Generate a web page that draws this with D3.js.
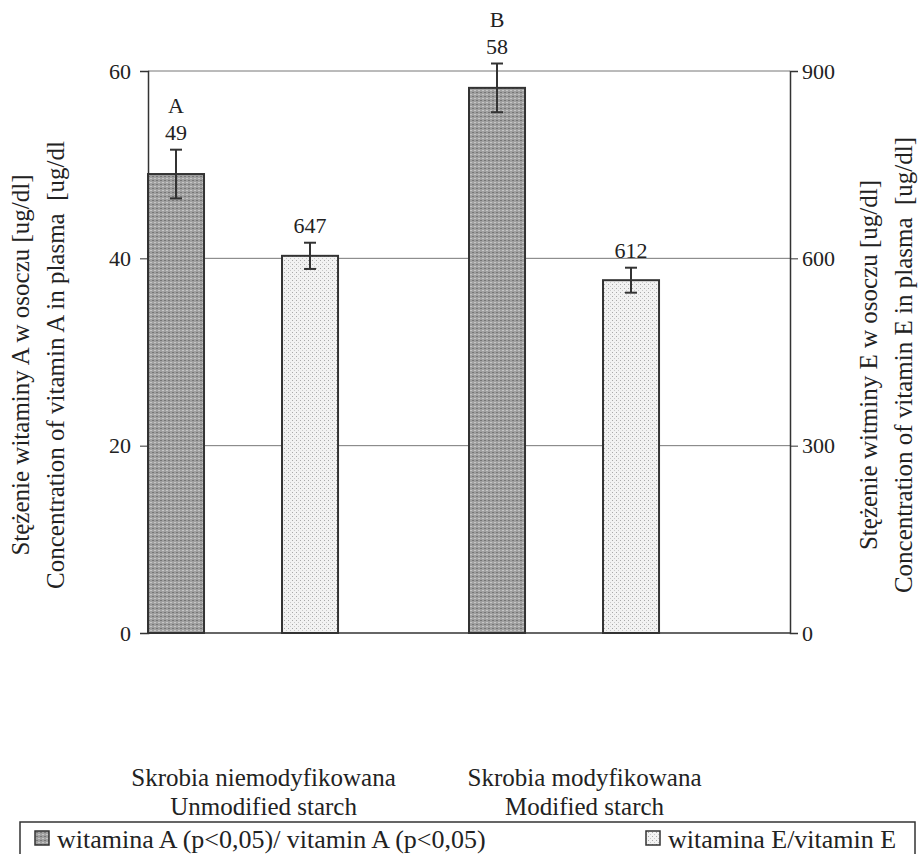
<!DOCTYPE html>
<html>
<head>
<meta charset="utf-8">
<script src="https://cdn.jsdelivr.net/npm/d3@7"></script>
<style>
  body { margin: 0; background: #fff; }
  svg { display: block; font-family: "Liberation Serif", "Times New Roman", serif; }
</style>
</head>
<body>
<div id="chart"></div>
<script>
// groups along the x axis (two lines each)
const groups = ["Skrobia niemodyfikowana|Unmodified starch", "Skrobia modyfikowana|Modified starch"];
const series = ["A", "E"];
// vitamin A, left axis
const vitA = [49, 58.2];
const vitAErr = [2.6, 2.6];
const vitALabels = ["49", "58"];
const vitALetters = ["A", "B"];
// vitamin E, right axis
const vitE = [604, 565];
const vitEErr = [21, 20];
const vitELabels = ["647", "612"];
const leftTicks = [0, 20, 40, 60];
const rightTicks = [0, 300, 600, 900];
const legendLabels = ["witamina A (p<0,05)/ vitamin A (p<0,05)", "witamina E/vitamin E"];

const W = 923, H = 854;
const mLeft = 148, mRight = 790, mTop = 71, mBottom = 633;

const svg = d3.select("#chart").append("svg")
  .attr("width", W).attr("height", H);

// textures for the bars
const defs = svg.append("defs");
const pd = defs.append("pattern").attr("id", "darkPat")
  .attr("patternUnits", "userSpaceOnUse").attr("width", 4).attr("height", 4);
pd.append("rect").attr("width", 4).attr("height", 4).attr("fill", "#a0a0a0");
pd.append("rect").attr("width", 2).attr("height", 1).attr("fill", "#777");
pd.append("rect").attr("x", 2).attr("y", 2).attr("width", 2).attr("height", 1).attr("fill", "#c6c6c6");
const pl = defs.append("pattern").attr("id", "lightPat")
  .attr("patternUnits", "userSpaceOnUse").attr("width", 4).attr("height", 4);
pl.append("rect").attr("width", 4).attr("height", 4).attr("fill", "#f2f2f2");
pl.append("rect").attr("width", 1).attr("height", 1).attr("fill", "#a8a8a8");
pl.append("rect").attr("x", 2).attr("y", 2).attr("width", 1).attr("height", 1).attr("fill", "#c8c8c8");

const x0 = d3.scaleBand().domain(groups).range([mLeft, mRight]).padding(0);
const x1 = d3.scaleBand().domain(series).range([0, x0.bandwidth() * 0.592])
  .paddingInner(0.582).paddingOuter(0);
const yL = d3.scaleLinear().domain([0, 60]).range([mBottom, mTop]);
const yR = d3.scaleLinear().domain([0, 900]).range([mBottom, mTop]);

// gridlines
svg.append("g")
  .selectAll("line").data(leftTicks.filter(d => d > 0)).enter()
  .append("line")
  .attr("x1", mLeft).attr("x2", mRight)
  .attr("y1", d => yL(d)).attr("y2", d => yL(d))
  .attr("stroke", "#777").attr("stroke-width", 1);

// axes
const axL = svg.append("g").attr("transform", `translate(${mLeft},0)`)
  .call(d3.axisLeft(yL).tickValues(leftTicks).tickSize(8).tickPadding(9));
const axR = svg.append("g").attr("transform", `translate(${mRight},0)`)
  .call(d3.axisRight(yR).tickValues(rightTicks).tickSize(8).tickPadding(4));
[axL, axR].forEach(ax => {
  ax.select(".domain").attr("stroke", "#333").attr("stroke-width", 1.5);
  ax.selectAll(".tick line").attr("stroke", "#333");
  ax.selectAll("text").attr("font-family", "Liberation Serif").attr("font-size", 22).attr("fill", "#222");
});
svg.append("line")
  .attr("x1", mLeft).attr("x2", mRight).attr("y1", yL(0)).attr("y2", yL(0))
  .attr("stroke", "#333").attr("stroke-width", 1.5);

// bars
const rows = groups.map((g, i) => [
  { g, s: "A", v: vitA[i], e: vitAErr[i], y: yL, lab: vitALabels[i], let: vitALetters[i] },
  { g, s: "E", v: vitE[i], e: vitEErr[i], y: yR, lab: vitELabels[i], let: null }
]).flat();

const bars = svg.append("g");
bars.selectAll("rect").data(rows).enter()
  .append("rect")
  .attr("x", d => x0(d.g) + x1(d.s))
  .attr("y", d => d.y(d.v))
  .attr("width", x1.bandwidth())
  .attr("height", d => d.y(0) - d.y(d.v))
  .attr("fill", d => d.s === "A" ? "url(#darkPat)" : "url(#lightPat)")
  .attr("stroke", "#333").attr("stroke-width", 2);

// error bars
const eb = svg.append("g").attr("stroke", "#333").attr("stroke-width", 2);
rows.forEach(d => {
  const cx = x0(d.g) + x1(d.s) + x1.bandwidth() / 2;
  eb.append("line").attr("x1", cx).attr("x2", cx)
    .attr("y1", d.y(d.v + d.e)).attr("y2", d.y(d.v - d.e));
  [d.v + d.e, d.v - d.e].forEach(v => {
    eb.append("line").attr("x1", cx - 6).attr("x2", cx + 6)
      .attr("y1", d.y(v)).attr("y2", d.y(v));
  });
});

// value labels and significance letters
const lbl = svg.append("g").attr("font-size", 22).attr("fill", "#222").attr("text-anchor", "middle");
rows.forEach(d => {
  const cx = x0(d.g) + x1(d.s) + x1.bandwidth() / 2;
  const yt = d.y(d.v + d.e) - 10;
  lbl.append("text").attr("x", cx).attr("y", yt).text(d.lab);
  if (d.let) lbl.append("text").attr("x", cx).attr("y", yt - 27).text(d.let);
});

// category labels
const cat = svg.append("g").attr("font-size", 25).attr("fill", "#222").attr("text-anchor", "middle");
groups.forEach(g => {
  const cx = x0(g) + x0.bandwidth() * 0.36;
  g.split("|").forEach((line, j) => {
    cat.append("text").attr("x", cx).attr("y", 786 + j * 29).text(line);
  });
});

// axis titles
const midY = 365;
const titleL = ["Stężenie witaminy A w osoczu [ug/dl]", "Concentration of vitamin A in plasma  [ug/dl"];
const titleR = ["Stężenie witminy E w osoczu [ug/dl]", "Concentration of vitamin E in plasma  [ug/dl]"];
titleL.forEach((t, j) => {
  svg.append("text").attr("transform", `translate(${29 + j * 35},${midY}) rotate(-90)`)
    .attr("text-anchor", "middle").attr("font-size", 25).attr("fill", "#222")
    .style("white-space", "pre").text(t);
});
titleR.forEach((t, j) => {
  svg.append("text").attr("transform", `translate(${877 + j * 35},${midY}) rotate(-90)`)
    .attr("text-anchor", "middle").attr("font-size", 25).attr("fill", "#222")
    .style("white-space", "pre").text(t);
});

// legend
const lg = svg.append("g");
lg.append("rect").attr("x", 20).attr("y", 822).attr("width", 895).attr("height", 40)
  .attr("fill", "none").attr("stroke", "#333").attr("stroke-width", 1.5);
const legX = [35, 646];
legendLabels.forEach((t, i) => {
  lg.append("rect").attr("x", legX[i]).attr("y", 831).attr("width", 14).attr("height", 14)
    .attr("fill", i === 0 ? "url(#darkPat)" : "url(#lightPat)")
    .attr("stroke", "#333").attr("stroke-width", 1.5);
  lg.append("text").attr("x", legX[i] + 22).attr("y", 848)
    .attr("font-size", 26).attr("fill", "#222").text(t);
});
</script>
</body>
</html>
